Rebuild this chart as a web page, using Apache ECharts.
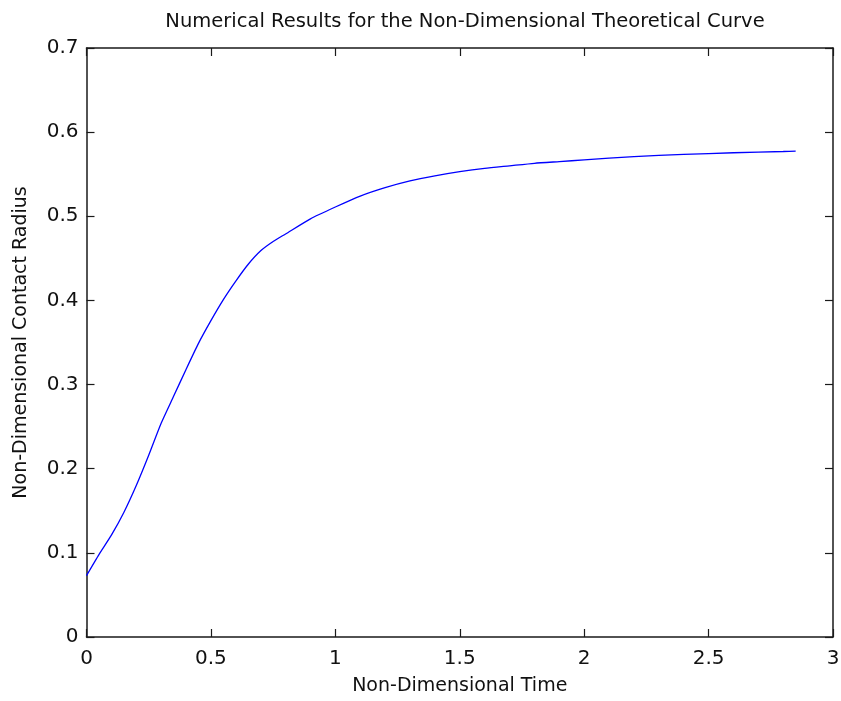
<!DOCTYPE html>
<html>
<head>
<meta charset="utf-8">
<script src="https://cdn.jsdelivr.net/npm/echarts@6/dist/echarts.min.js"></script>
<style>
html,body{margin:0;padding:0;background:#fff;}
#chart{width:841px;height:701px;}
</style>
</head>
<body>
<div id="chart"></div>
<script>
const titleText = "Numerical Results for the Non-Dimensional Theoretical Curve";
const xName = "Non-Dimensional Time";
const yName = "Non-Dimensional Contact Radius";
const time = [0, 0.05, 0.1, 0.15, 0.2, 0.25, 0.3, 0.35, 0.4, 0.45, 0.5, 0.55, 0.6, 0.65, 0.7, 0.75, 0.8, 0.9, 1.0, 1.1, 1.2, 1.3, 1.4, 1.5, 1.6, 1.7, 1.8, 1.9, 2.0, 2.2, 2.4, 2.6, 2.8, 2.85];
const radius = [0.073, 0.098, 0.121, 0.148, 0.180, 0.216, 0.254, 0.286, 0.318, 0.349, 0.376, 0.401, 0.423, 0.443, 0.459, 0.470, 0.479, 0.497, 0.511, 0.524, 0.534, 0.542, 0.548, 0.553, 0.557, 0.560, 0.563, 0.565, 0.567, 0.571, 0.5735, 0.5755, 0.577, 0.5775];

const font = "DejaVu Sans, sans-serif";
const chart = echarts.init(document.getElementById('chart'), null, {renderer: 'canvas'});
const data = time.map((t, i) => [t, radius[i]]);
const axisLine = {show: true, onZero: false, lineStyle: {color: '#1a1a1a', width: 1.5}};
const axisTick = {show: true, inside: true, length: 8, lineStyle: {color: '#1a1a1a', width: 1.2}};
chart.setOption({
  animation: false,
  backgroundColor: '#fff',
  title: {
    text: titleText, left: 460, top: 7, textAlign: 'center',
    textStyle: {fontFamily: font, fontSize: 19.5, fontWeight: 'normal', color: '#111'}
  },
  grid: {left: 86.5, right: 8, top: 48, bottom: 64, containLabel: false, outerBoundsMode: 'none'},
  xAxis: [
    {type: 'value', min: 0, max: 3, interval: 0.5, position: 'bottom',
     name: xName, nameLocation: 'middle', nameGap: 40,
     nameTextStyle: {fontFamily: font, fontSize: 19, color: '#111'},
     axisLine: axisLine, axisTick: axisTick, splitLine: {show: false},
     axisLabel: {fontFamily: font, fontSize: 20, color: '#111', margin: 12}},
    {type: 'value', min: 0, max: 3, interval: 0.5, position: 'top',
     axisLine: axisLine, axisTick: axisTick, splitLine: {show: false},
     axisLabel: {show: false}}
  ],
  yAxis: [
    {type: 'value', min: 0, max: 0.7, interval: 0.1, position: 'left',
     name: yName, nameLocation: 'middle', nameGap: 56, nameRotate: 90,
     nameTextStyle: {fontFamily: font, fontSize: 19, color: '#111'},
     axisLine: axisLine, axisTick: axisTick, splitLine: {show: false},
     axisLabel: {fontFamily: font, fontSize: 20, color: '#111', margin: 8,
       formatter: v => (Math.round(v * 10) / 10).toString()}},
    {type: 'value', min: 0, max: 0.7, interval: 0.1, position: 'right',
     axisLine: axisLine, axisTick: axisTick, splitLine: {show: false},
     axisLabel: {show: false}}
  ],
  series: [{
    type: 'line', data: data, xAxisIndex: 0, yAxisIndex: 0,
    showSymbol: false, smooth: 0.2,
    lineStyle: {color: '#0000ff', width: 1.3}
  }]
});
</script>
</body>
</html>
